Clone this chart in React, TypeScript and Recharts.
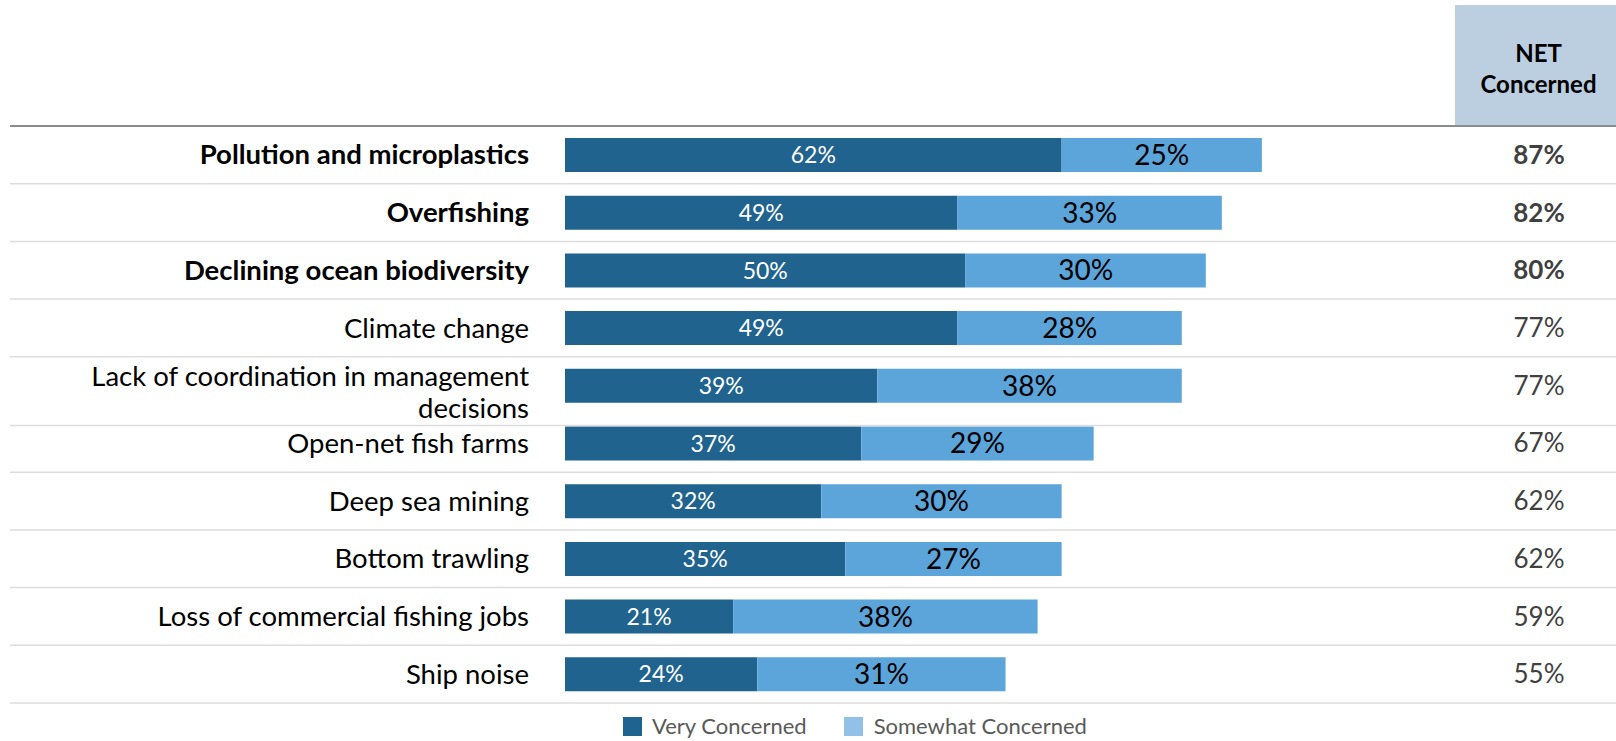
import React from "react";
import { BarChart, Bar, XAxis, YAxis, LabelList, Legend } from "recharts";

const categories = [
  "Pollution and microplastics",
  "Overfishing",
  "Declining ocean biodiversity",
  "Climate change",
  "Lack of coordination in management decisions",
  "Open-net fish farms",
  "Deep sea mining",
  "Bottom trawling",
  "Loss of commercial fishing jobs",
  "Ship noise",
];
const veryConcerned = [62, 49, 50, 49, 39, 37, 32, 35, 21, 24];
const somewhatConcerned = [25, 33, 30, 28, 38, 29, 30, 27, 38, 31];
const netConcerned = [87, 82, 80, 77, 77, 67, 62, 62, 59, 55];
const boldCategories = [
  "Pollution and microplastics",
  "Overfishing",
  "Declining ocean biodiversity",
];
const seriesNames = ["Very Concerned", "Somewhat Concerned"];

const data = categories.map((name, i) => ({
  name,
  very: veryConcerned[i],
  somewhat: somewhatConcerned[i],
}));

const W = 1616;
const H = 741;
const MARGIN = { top: 126, right: 0, bottom: 38, left: 0 };
const BAND = (H - MARGIN.top - MARGIN.bottom) / categories.length;
const LABEL_RIGHT = 529;
const NET_X = 1539;
const FONT = "Lato, 'Open Sans', sans-serif";
const DARK = "#20638F";
const LIGHT = "#5BA5DB";

// greedy word wrap for the long category label
const wrap = (s: string, max = 36) => {
  const lines: string[] = [];
  let cur = "";
  s.split(" ").forEach((w) => {
    if (cur && (cur + " " + w).length > max) {
      lines.push(cur);
      cur = w;
    } else {
      cur = cur ? cur + " " + w : w;
    }
  });
  if (cur) lines.push(cur);
  return lines;
};

const CategoryTick = (props: any) => {
  const { y, payload } = props;
  const index = payload.index ?? props.index;
  const lines = wrap(payload.value);
  const bold = boldCategories.includes(payload.value);
  const half = BAND / 2;
  const sepY = y + half + (lines.length - 1) * 11;
  const lineH = 32;
  const startY = lines.length > 1 ? y - 9 : y;
  return (
    <g>
      {index === 0 && (
        <line x1={10} x2={W} y1={y - half} y2={y - half} stroke="#8C8C8C" strokeWidth={2} />
      )}
      <line x1={10} x2={W} y1={sepY} y2={sepY} stroke="#DDDDDD" strokeWidth={1.5} />
      <text
        x={LABEL_RIGHT}
        y={startY}
        textAnchor="end"
        fontSize={27.5}
        fontWeight={bold ? 700 : 400}
        fill="#000"
      >
        {lines.map((l, k) => (
          <tspan key={k} x={LABEL_RIGHT} dy={k === 0 ? "0.35em" : lineH}>
            {l}
          </tspan>
        ))}
      </text>
    </g>
  );
};

const NetTick = (props: any) => {
  const { y, payload } = props;
  const index = payload.index ?? props.index;
  const bold = boldCategories.includes(payload.value);
  return (
    <text
      x={NET_X}
      y={y}
      dy="0.35em"
      textAnchor="middle"
      fontSize={26}
      fontWeight={bold ? 700 : 400}
      fill="#404040"
    >
      {netConcerned[index]}%
    </text>
  );
};

const LegendContent = () => (
  <div
    style={{
      display: "flex",
      alignItems: "flex-start",
      paddingLeft: 623,
      fontSize: 22,
      lineHeight: "20px",
      color: "#595959",
      fontFamily: FONT,
    }}
  >
    <span style={{ width: 19, height: 19, background: "#1F6391", marginTop: 1 }} />
    <span style={{ marginLeft: 10 }}>{seriesNames[0]}</span>
    <span style={{ width: 19, height: 19, background: "#92C1E8", marginLeft: 37, marginTop: 1 }} />
    <span style={{ marginLeft: 11 }}>{seriesNames[1]}</span>
  </div>
);

const App: React.FC = () => {
  return (
    <div style={{ position: "relative", width: W, height: H, fontFamily: FONT, background: "#fff" }}>
      <style>{`body{margin:0}`}</style>
      <div
        style={{
          position: "absolute",
          left: 1455,
          top: 5,
          width: W - 1455,
          height: 121,
          background: "#BCCFE1",
          display: "flex",
          flexDirection: "column",
          alignItems: "center",
          justifyContent: "center",
          paddingLeft: 6,
          paddingTop: 4,
          boxSizing: "border-box",
          fontWeight: 700,
          fontSize: 24,
          lineHeight: "31px",
          color: "#000",
        }}
      >
        <div>NET</div>
        <div>Concerned</div>
      </div>
      <BarChart width={W} height={H} data={data} layout="vertical" margin={MARGIN}>
        <XAxis type="number" domain={[0, 100]} hide />
        <YAxis
          yAxisId="left"
          type="category"
          dataKey="name"
          width={565}
          axisLine={false}
          tickLine={false}
          interval={0}
          tick={<CategoryTick />}
        />
        <YAxis
          yAxisId="right"
          orientation="right"
          type="category"
          dataKey="name"
          width={250}
          axisLine={false}
          tickLine={false}
          interval={0}
          tick={<NetTick />}
        />
        <Legend
          layout="horizontal"
          verticalAlign="middle"
          align="center"
          content={<LegendContent />}
          wrapperStyle={{ position: "absolute", top: 716, left: 0, width: W }}
        />
        <Bar
          yAxisId="left"
          dataKey="very"
          name={seriesNames[0]}
          stackId="a"
          fill={DARK}
          barSize={34}
          isAnimationActive={false}
        >
          <LabelList
            dataKey="very"
            position="center"
            fill="#fff"
            fontSize={23}
            formatter={(v: any) => `${v}%`}
          />
        </Bar>
        <Bar
          yAxisId="left"
          dataKey="somewhat"
          name={seriesNames[1]}
          stackId="a"
          fill={LIGHT}
          barSize={34}
          isAnimationActive={false}
        >
          <LabelList
            dataKey="somewhat"
            position="center"
            fill="#000"
            fontSize={28}
            formatter={(v: any) => `${v}%`}
          />
        </Bar>
      </BarChart>
    </div>
  );
};

export default App;
